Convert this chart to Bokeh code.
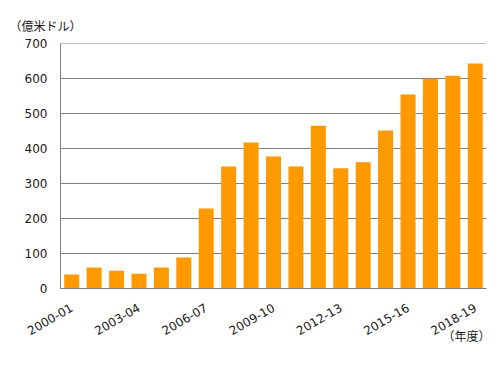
import math
from bokeh.plotting import figure
from bokeh.models import ColumnDataSource, Range1d, FixedTicker, Title
from bokeh.embed import file_html
from bokeh.resources import INLINE

years = ["2000-01", "2001-02", "2002-03", "2003-04", "2004-05", "2005-06", "2006-07",
         "2007-08", "2008-09", "2009-10", "2010-11", "2011-12", "2012-13", "2013-14",
         "2014-15", "2015-16", "2016-17", "2017-18", "2018-19"]
values = [40, 60, 51, 42, 60, 89, 229, 349, 418, 378, 349, 466, 344, 361, 452, 555, 600, 609, 644]
y_ticks = [0, 100, 200, 300, 400, 500, 600, 700]
shown_every = 3

xs = list(range(len(years)))
src = ColumnDataSource(data=dict(x=xs, top=values, label=years))

p = figure(width=496, height=375, output_backend="svg", toolbar_location=None,
           x_range=Range1d(-0.5, len(years) - 0.5), y_range=Range1d(0, 701),
           min_border_left=60, min_border_right=10, min_border_top=43, min_border_bottom=87)
p.outline_line_color = None
p.background_fill_color = "white"
p.border_fill_color = "white"

p.vbar(x="x", top="top", width=0.67, bottom=0, source=src, fill_color="#FF9900", line_color=None)

# axes
p.xaxis.ticker = FixedTicker(ticks=[i for i in xs if i % shown_every == 0])
p.xaxis.major_label_overrides = {i: years[i] for i in xs if i % shown_every == 0}
p.xaxis.major_label_orientation = math.pi / 6
p.xaxis.major_tick_line_color = None
p.xaxis.minor_tick_line_color = None
p.xaxis.major_tick_out = 0
p.xaxis.major_tick_in = 0
p.xaxis.axis_line_color = "#808080"
p.xaxis.major_label_standoff = 18
p.xaxis.major_label_text_font = "DejaVu Sans"
p.xaxis.major_label_text_font_size = "12px"
p.xaxis.major_label_text_color = "#1a1a1a"

p.yaxis.ticker = FixedTicker(ticks=y_ticks)
p.yaxis.major_tick_line_color = None
p.yaxis.minor_tick_line_color = None
p.yaxis.major_tick_out = 0
p.yaxis.major_tick_in = 0
p.yaxis.axis_line_color = "#808080"
p.yaxis.major_label_standoff = 13
p.yaxis.major_label_text_font = "DejaVu Sans"
p.yaxis.major_label_text_font_size = "12px"
p.yaxis.major_label_text_color = "#1a1a1a"

p.xgrid.grid_line_color = None
p.ygrid.ticker = FixedTicker(ticks=y_ticks)
p.ygrid.grid_line_color = "#808080"
p.ygrid.grid_line_width = 1

p.add_layout(Title(text="（億米ドル）", align="left", offset=-51, standoff=19,
                   text_font="Noto Sans CJK JP", text_font_size="12px", text_color="#1a1a1a",
                   text_font_style="normal"), "above")
p.add_layout(Title(text="（年度）", align="right", offset=-4, standoff=-32, vertical_align="top",
                   text_font="Noto Sans CJK JP", text_font_size="12px", text_color="#1a1a1a",
                   text_font_style="normal"), "below")

open("out.html", "w").write(file_html(p, INLINE))
